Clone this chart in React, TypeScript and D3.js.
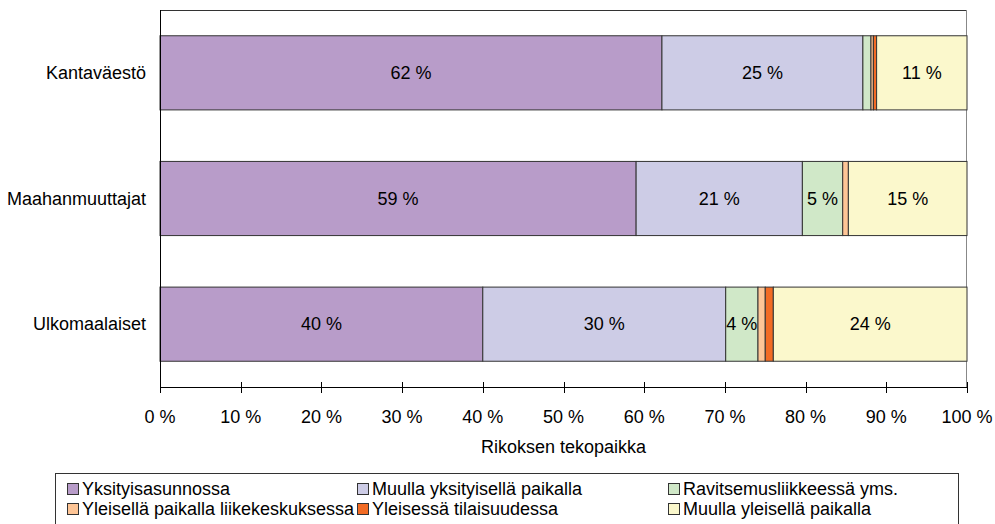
import React from "react";
import * as d3 from "d3";

const width = 995;
const height = 524;

const categories = ["Kantaväestö", "Maahanmuuttajat", "Ulkomaalaiset"];
const seriesNames = [
  "Yksityisasunnossa",
  "Muulla yksityisellä paikalla",
  "Ravitsemusliikkeessä yms.",
  "Yleisellä paikalla liikekeskuksessa",
  "Yleisessä tilaisuudessa",
  "Muulla yleisellä paikalla",
];
const colors = ["#b89cc9", "#cdcce6", "#d0e8c8", "#fec596", "#f26b24", "#fbf8cc"];

// one array per series, same order as categories
const yksityisasunto = [62.2, 59.0, 40.0];
const muuYksityinen = [24.9, 20.6, 30.1];
const ravintola = [1.0, 5.0, 4.0];
const liikekeskus = [0.3, 0.7, 0.9];
const tilaisuus = [0.4, 0.0, 1.0];
const muuYleinen = [11.2, 14.7, 24.0];
const series = [yksityisasunto, muuYksityinen, ravintola, liikekeskus, tilaisuus, muuYleinen];

const ticks = [0, 10, 20, 30, 40, 50, 60, 70, 80, 90, 100];

const left = 160;
const right = 967;
const top = 10;
const bottom = 387;

const font = "Liberation Sans, Arial, sans-serif";
const fs = 18;

export default function App() {
  const x = d3.scaleLinear().domain([0, 100]).range([left, right]);
  const y = d3.scaleBand().domain(categories).range([top, bottom]).paddingInner(0.41).paddingOuter(0.205);

  const rows = categories.map((c, i) => {
    let acc = 0;
    return series.map((s, k) => {
      const v = s[i];
      const seg = { cat: c, k, x0: acc, x1: acc + v, v };
      acc += v;
      return seg;
    });
  });

  const legendCols = [67, 357, 668];

  return (
    <svg width={width} height={height} style={{ position: "absolute", left: 0, top: 0 }} fontFamily={font}>
      <rect width={width} height={height} fill="white" />
      {/* plot frame */}
      <line x1={left} x2={right} y1={top + 0.5} y2={top + 0.5} stroke="#333" />
      <line x1={right - 0.5} x2={right - 0.5} y1={top} y2={bottom} stroke="#888" />
      {rows.map((segs) =>
        segs.map((s) =>
          s.v > 0 ? (
            <g key={s.cat + s.k}>
              <rect
                x={x(s.x0)}
                y={y(s.cat)!}
                width={x(s.x1) - x(s.x0)}
                height={y.bandwidth()}
                fill={colors[s.k]}
                stroke="#333"
                strokeWidth={1}
              />
              {s.v >= 3 && (
                <text
                  x={(x(s.x0) + x(s.x1)) / 2}
                  y={y(s.cat)! + y.bandwidth() / 2}
                  dy="0.35em"
                  textAnchor="middle"
                  fontSize={fs}
                  fill="#000"
                >
                  {Math.round(s.v)} %
                </text>
              )}
            </g>
          ) : null
        )
      )}
      {/* axes */}
      <line x1={left + 0.5} x2={left + 0.5} y1={top} y2={bottom} stroke="#000" />
      <line x1={left} x2={right} y1={bottom + 0.5} y2={bottom + 0.5} stroke="#000" />
      {ticks.map((t) => (
        <g key={t}>
          <line x1={Math.round(x(t)) + 0.5} x2={Math.round(x(t)) + 0.5} y1={bottom - 5} y2={bottom + 6} stroke="#000" />
          <text x={x(t)} y={423} textAnchor="middle" fontSize={fs}>
            {t} %
          </text>
        </g>
      ))}
      {categories.map((c) => (
        <text key={c} x={left - 14} y={y(c)! + y.bandwidth() / 2} dy="0.35em" textAnchor="end" fontSize={fs}>
          {c}
        </text>
      ))}
      <text x={(left + right) / 2} y={453} textAnchor="middle" fontSize={fs}>
        Rikoksen tekopaikka
      </text>
      {/* legend */}
      <rect x={55.5} y={473.5} width={903} height={70} fill="white" stroke="#333" />
      {seriesNames.map((n, i) => {
        const col = i % 3;
        const row = Math.floor(i / 3);
        const cy = 489 + row * 20;
        return (
          <g key={n}>
            <rect x={legendCols[col] + 0.5} y={cy - 5.5} width={11} height={11} fill={colors[i]} stroke="#333" />
            <text x={legendCols[col] + 15} y={cy} dy="0.35em" fontSize={fs}>
              {n}
            </text>
          </g>
        );
      })}
    </svg>
  );
}
